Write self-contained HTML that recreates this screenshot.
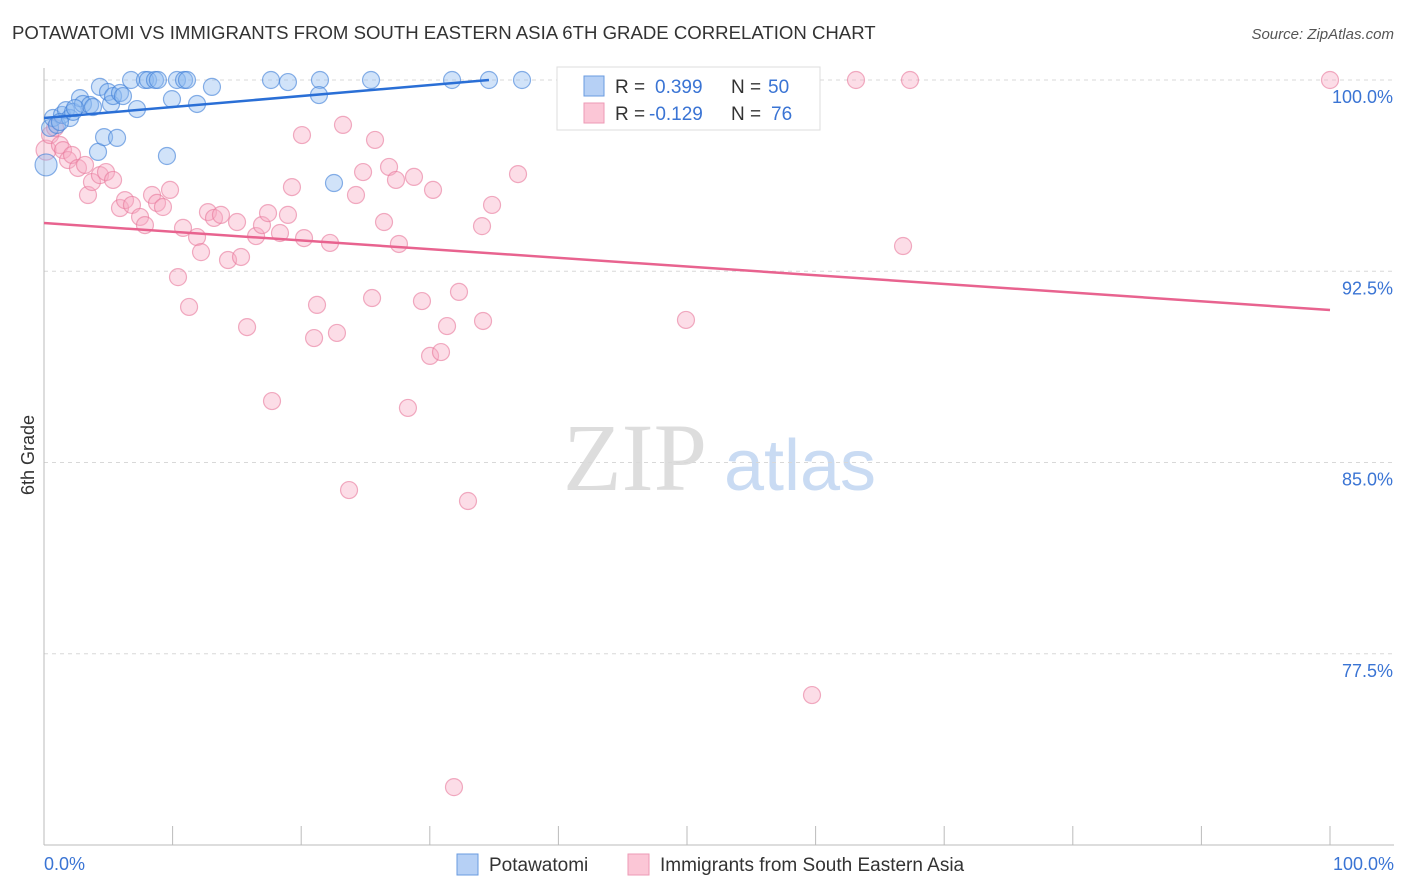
<!DOCTYPE html>
<html><head><meta charset="utf-8"><style>
body{margin:0;background:#fff;font-family:"Liberation Sans",sans-serif;}
#wrap{position:relative;width:1406px;height:892px;overflow:hidden;}
</style></head><body>
<div id="wrap">
<svg id="svg" width="1406" height="892" xmlns="http://www.w3.org/2000/svg">
<text x="12" y="39" font-size="18.6" fill="#333">POTAWATOMI VS IMMIGRANTS FROM SOUTH EASTERN ASIA 6TH GRADE CORRELATION CHART</text>
<text x="1394" y="39" font-size="15" fill="#555" text-anchor="end" font-style="italic">Source: ZipAtlas.com</text>
<text x="34" y="455" font-size="18" fill="#333" text-anchor="middle" transform="rotate(-90 34 455)">6th Grade</text>
<g>
<text x="635" y="490" font-size="96" fill="#ddd" text-anchor="middle" font-family="Liberation Serif,serif">ZIP</text>
<text x="800" y="490" font-size="72" fill="#c9dbf3" text-anchor="middle">atlas</text>
</g>
<g id="grid"></g><g id="axes"></g><g id="pts"></g><g id="trend"></g>
<g>
<rect x="557" y="67" width="263" height="63" fill="#fff" stroke="#ddd"/>
<rect x="584" y="76" width="20" height="20" fill="#b6d0f5" stroke="#6a9be0"/>
<rect x="584" y="103" width="20" height="20" fill="#fbc6d6" stroke="#ee9ab5"/>
<text x="615" y="93" font-size="19" fill="#333">R = </text><text x="655" y="93" font-size="19" fill="#3a74d4">0.399</text>
<text x="731" y="93" font-size="19" fill="#333">N = </text><text x="768" y="93" font-size="19" fill="#3a74d4">50</text>
<text x="615" y="120" font-size="19" fill="#333">R = </text><text x="649" y="120" font-size="19" fill="#3a74d4">-0.129</text>
<text x="731" y="120" font-size="19" fill="#333">N = </text><text x="771" y="120" font-size="19" fill="#3a74d4">76</text>
</g>
<g>
<rect x="457" y="854" width="21" height="21" fill="#b6d0f5" stroke="#6a9be0"/>
<text x="489" y="871" font-size="19" fill="#333">Potawatomi</text>
<rect x="628" y="854" width="21" height="21" fill="#fbc6d6" stroke="#ee9ab5"/>
<text x="660" y="871" font-size="19" fill="#333">Immigrants from South Eastern Asia</text>
</g>
</svg>
</div>
<script>
const yTicks=[100,92.5,85,77.5];
const yTickLabels=["100.0%","92.5%","85.0%","77.5%"];
const xTickLabels=["0.0%","100.0%"];
const blueX=[0.16,0.47,0.70,1.01,1.40,1.71,2.02,2.26,2.80,3.03,3.58,3.81,4.20,4.35,4.67,4.98,5.21,5.37,5.68,5.91,6.14,6.77,7.23,7.85,8.09,8.63,8.86,9.56,9.95,10.34,10.89,11.12,11.90,13.06,17.65,18.97,21.46,21.38,22.55,25.43,31.73,34.60,37.17,43.2,1.24,2.41];
const blueY=[96.67,98.12,98.51,98.24,98.63,98.82,98.51,98.75,99.29,99.06,99.02,98.94,97.18,99.73,97.76,99.53,99.06,99.37,97.73,99.49,99.37,100,98.86,100,100,100,100,97.02,99.25,100,100,100,99.06,99.73,100,99.92,100,99.41,95.96,100,100,100,100,100,98.35,98.90];
const pinkX=[0.16,0.47,0.86,1.24,1.48,1.87,2.18,2.64,3.19,3.42,3.73,4.35,4.82,5.37,5.91,6.30,6.84,7.47,7.85,8.40,8.79,9.25,9.80,10.42,10.81,11.28,11.90,12.21,12.75,13.22,13.76,14.31,15.01,15.32,15.79,16.49,16.95,17.42,17.73,18.35,18.97,19.28,20.06,20.22,21.00,21.23,22.24,22.78,23.25,23.72,24.26,24.81,25.51,25.74,26.44,26.83,27.37,27.60,28.30,28.77,29.39,30.02,30.25,30.87,31.34,32.27,32.97,34.06,34.14,34.84,36.86,49.92,59.72,63.14,66.80,67.34,100,31.88];
const pinkY=[97.25,97.84,98.12,97.45,97.25,96.86,97.06,96.55,96.67,95.49,96.00,96.27,96.39,96.08,94.98,95.29,95.10,94.63,94.31,95.49,95.18,95.02,95.69,92.27,94.20,91.10,93.84,93.25,94.82,94.59,94.71,92.94,94.43,93.06,90.31,93.88,94.31,94.78,87.41,94.00,94.71,95.80,97.84,93.80,89.88,91.18,93.61,90.08,98.24,83.92,95.49,96.39,91.45,97.65,94.43,96.59,96.08,93.57,87.14,96.20,91.33,89.18,95.69,89.33,90.35,91.69,83.49,94.27,90.55,95.10,96.31,90.59,75.88,100,93.49,100,100,72.27];
const blueTrend=[[0,98.51],[34.6,100]];
const pinkTrend=[[0,94.39],[100,90.98]];
const NS="http://www.w3.org/2000/svg";
const X=v=>44+v*12.86;
const Y=v=>80+(100-v)*25.5;
function mk(t,a,p){const e=document.createElementNS(NS,t);for(const k in a)e.setAttribute(k,a[k]);p.appendChild(e);return e;}
const grid=document.getElementById('grid'),axes=document.getElementById('axes'),pts=document.getElementById('pts'),tr=document.getElementById('trend');
yTicks.forEach((t,i)=>{
 const l=mk('line',{x1:44,x2:1394,y1:Y(t),y2:Y(t),stroke:'#d8d8d8','stroke-dasharray':'4,4'},grid);
 
 
 const tx=mk('text',{x:1393,y:Y(t)+23,'font-size':18,fill:'#3a74d4','text-anchor':'end'},axes);tx.textContent=yTickLabels[i];
 
 
});
const ax=mk('line',{x1:44,x2:44,y1:68,y2:845,stroke:'#bbb'},axes);


const bx=mk('line',{x1:44,x2:1394,y1:845,y2:845,stroke:'#bbb'},axes);


for(let i=0;i<=10;i++){const t=mk('line',{x1:X(i*10),x2:X(i*10),y1:826,y2:845,stroke:'#bbb'},axes);
 
 }
[[0,'start'],[100,'end']].forEach((d,i)=>{const t=mk('text',{x:d[0]==0?44:1394,y:870,'font-size':18,fill:'#3a74d4','text-anchor':d[1]},axes);t.textContent=xTickLabels[i];
 
 });
pinkX.forEach((v,i)=>{const c=mk('circle',{cx:X(v),cy:Y(pinkY[i]),r:i==0?10:8.5,fill:'rgba(248,170,195,0.4)',stroke:'rgba(232,120,155,0.6)','stroke-width':1.2},pts);
 
 });
blueX.forEach((v,i)=>{const c=mk('circle',{cx:X(v),cy:Y(blueY[i]),r:i==0?11:8.5,fill:'rgba(140,185,240,0.4)',stroke:'rgba(60,125,215,0.6)','stroke-width':1.2},pts);
 
 });
const bl=mk('line',{x1:X(blueTrend[0][0]),y1:Y(blueTrend[0][1]),x2:X(blueTrend[1][0]),y2:Y(blueTrend[1][1]),stroke:'#2a6fd6','stroke-width':2.5},tr);


const pl=mk('line',{x1:X(pinkTrend[0][0]),y1:Y(pinkTrend[0][1]),x2:X(pinkTrend[1][0]),y2:Y(pinkTrend[1][1]),stroke:'#e8638f','stroke-width':2.5},tr);


</script>
</body></html>
